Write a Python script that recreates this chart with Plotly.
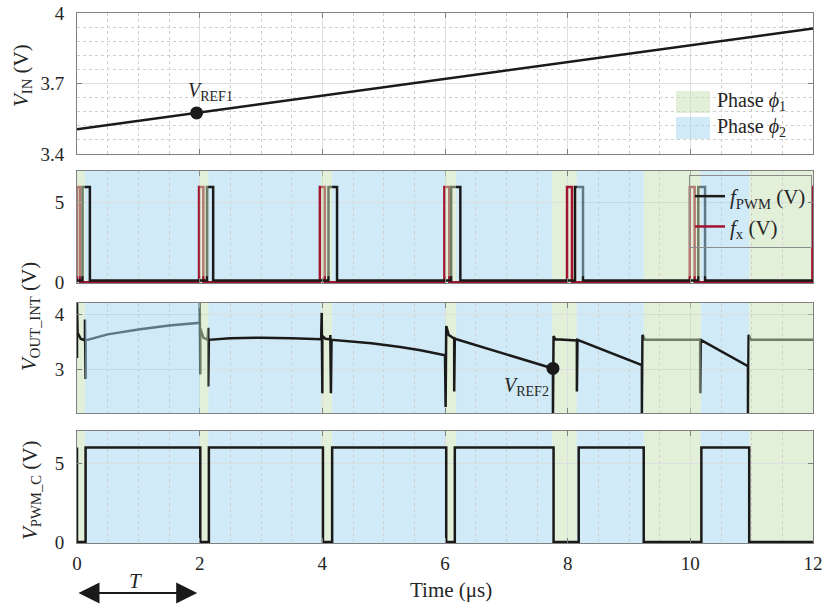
import plotly.graph_objects as go

# ---------------- data ----------------
x_ticks = [0, 2, 4, 6, 8, 10, 12]

# Panel 1 : input voltage
vin_t = [0.0, 1.95, 6.0, 12.0]
vin_v = [3.505, 3.575, 3.718, 3.934]
vref1_t = [1.95]
vref1_v = [3.575]

# Phase intervals (1 = phase phi1, 2 = phase phi2)
phase_start = [0.00, 0.13, 2.00, 2.14, 3.98, 4.16, 6.00, 6.18, 7.75, 8.15, 9.24, 10.17, 10.96]
phase_end   = [0.13, 2.00, 2.14, 3.98, 4.16, 6.00, 6.18, 7.75, 8.15, 9.24, 10.17, 10.96, 12.00]
phase_id    = [1, 2, 1, 2, 1, 2, 1, 2, 1, 2, 1, 2, 1]

# Panel 2 : PWM pulses
fpwm_on  = [0.09, 2.12, 4.10, 6.10, 8.12, 10.13]
fpwm_off = [0.21, 2.22, 4.24, 6.25, 8.25, 10.24]
fpwm_low, fpwm_high = 0.1, 6.0
fx_on  = [0.00, 1.99, 3.96, 5.99, 7.99, 9.99, 11.99]
fx_off = [0.05, 2.06, 4.04, 6.07, 8.07, 10.07, 12.05]
fx_low, fx_high = 0.0, 6.0

# Panel 3 : V_OUT_INT
vout_t = [0.00, 0.00, 0.01, 0.06, 0.13,
          0.13, 0.14, 0.14,
          0.50, 1.00, 1.50, 2.00,
          2.00, 2.01, 2.01, 2.06, 2.13,
          2.14, 2.14, 2.15,
          2.50, 3.00, 3.50, 3.98,
          3.99, 4.00, 4.00, 4.05, 4.13,
          4.13, 4.14, 4.15,
          4.80, 5.27, 5.60, 6.00,
          6.01, 6.02, 6.06, 6.14,
          6.15, 6.15, 6.16,
          7.76,
          7.76, 7.77, 7.80, 8.15,
          8.15, 8.16,
          9.21,
          9.21, 9.22, 9.26, 10.16,
          10.16, 10.17,
          10.94,
          10.94, 10.95, 10.99, 12.00]
vout_v = [3.20, 4.20, 3.66, 3.55, 3.52,
          3.90, 2.82, 3.52,
          3.63, 3.72, 3.79, 3.84,
          4.25, 2.90, 3.74, 3.57, 3.53,
          3.75, 2.68, 3.53,
          3.56, 3.57, 3.56, 3.54,
          4.02, 2.56, 3.60, 3.55, 3.54,
          3.62, 2.56, 3.53,
          3.47, 3.40, 3.34, 3.25,
          2.31, 3.78, 3.62, 3.56,
          3.58, 2.59, 3.55,
          3.01,
          2.20, 3.60, 3.54, 3.52,
          2.59, 3.53,
          3.07,
          2.20, 3.62, 3.53, 3.53,
          2.56, 3.53,
          3.05,
          2.20, 3.62, 3.53, 3.53]
vref2_t = [7.76]
vref2_v = [3.01]

# Panel 4 : V_PWM_C
pwmc_fall = [0.00, 2.01, 4.01, 6.02, 7.77, 9.24, 10.96]
pwmc_rise = [0.14, 2.15, 4.16, 6.16, 8.18, 10.18]
pwmc_low, pwmc_high = 0.0, 6.0

# ---------------- helpers ----------------
def pulses(on, off, low, high, tmax):
    t, v = [0.0], [low]
    for a, b in zip(on, off):
        t += [a, a, b, b]
        v += [low, high, high, low]
    if t[-1] < tmax:
        t.append(tmax)
        v.append(low)
    return t, v


def falling_rising(fall, rise, low, high, tmax):
    t, v = [0.0], [high]
    for i, f in enumerate(fall):
        t += [f, f]
        v += [high, low]
        if i < len(rise):
            t += [rise[i], rise[i]]
            v += [low, high]
    t.append(tmax)
    v.append(low)
    return t, v


BLACK = "#1a1a1a"
RED = "#a2142f"
GREEN_PURE = "rgb(197,224,180)"
BLUE_PURE = "rgb(163,214,239)"
FONT = "Liberation Serif"
AX = "#808080"
TXT = "#262626"

fig = go.Figure()

# Panel 1
fig.add_trace(go.Scatter(x=vin_t, y=vin_v, mode="lines", line=dict(color=BLACK, width=2.5),
                         xaxis="x", yaxis="y", showlegend=False, hoverinfo="skip"))
fig.add_trace(go.Scatter(x=vref1_t, y=vref1_v, mode="markers", marker=dict(color=BLACK, size=13),
                         xaxis="x", yaxis="y", showlegend=False))

# Panel 2
fx_t, fx_v = pulses(fx_on, fx_off, fx_low, fx_high, 12.0)
fp_t, fp_v = pulses(fpwm_on, fpwm_off, fpwm_low, fpwm_high, 12.0)
fig.add_trace(go.Scatter(x=fx_t, y=fx_v, mode="lines", line=dict(color=RED, width=2.5),
                         xaxis="x2", yaxis="y2", name="<i>f</i><sub>x</sub> (V)", legendrank=2))
fig.add_trace(go.Scatter(x=fp_t, y=fp_v, mode="lines", line=dict(color=BLACK, width=2.5),
                         xaxis="x2", yaxis="y2", name="<i>f</i><sub>PWM</sub> (V)", legendrank=1))

# Panel 3
fig.add_trace(go.Scatter(x=vout_t, y=vout_v, mode="lines", line=dict(color=BLACK, width=2.5),
                         xaxis="x3", yaxis="y3", showlegend=False))
fig.add_trace(go.Scatter(x=vref2_t, y=vref2_v, mode="markers", marker=dict(color=BLACK, size=13),
                         xaxis="x3", yaxis="y3", showlegend=False))

# Panel 4
pc_t, pc_v = falling_rising(pwmc_fall, pwmc_rise, pwmc_low, pwmc_high, 12.0)
fig.add_trace(go.Scatter(x=pc_t, y=pc_v, mode="lines", line=dict(color=BLACK, width=2.5),
                         xaxis="x4", yaxis="y4", showlegend=False))

# Phase shading (some drawn over the curves, as in the reference)
above = {2: {0, 2, 4, 6, 9, 10, 11}, 3: {1, 2, 10, 12}, 4: set()}
split_y = {2: 0.06}  # in panel 2 the overlay stops just above the baseline
shapes = []
for p in (2, 3, 4):
    for i, (a, b, pid) in enumerate(zip(phase_start, phase_end, phase_id)):
        col = GREEN_PURE if pid == 1 else BLUE_PURE
        if i in above[p] and p in split_y:
            s = split_y[p]
            shapes.append(dict(type="rect", xref=f"x{p}", yref=f"y{p} domain",
                               x0=a, x1=b, y0=0, y1=s, line=dict(width=0),
                               fillcolor=col, opacity=0.5, layer="below"))
            shapes.append(dict(type="rect", xref=f"x{p}", yref=f"y{p} domain",
                               x0=a, x1=b, y0=s, y1=1, line=dict(width=0),
                               fillcolor=col, opacity=0.5, layer="above"))
        else:
            shapes.append(dict(type="rect", xref=f"x{p}", yref=f"y{p} domain",
                               x0=a, x1=b, y0=0, y1=1, line=dict(width=0),
                               fillcolor=col, opacity=0.5,
                               layer="above" if i in above[p] else "below"))

# Layout geometry (pixels of the 826x607 picture)
W, H, L, R, B, T_ = 826, 607, 77, 13, 64, 13
pw, ph = W - L - R, H - T_ - B
def px(xp):
    return (xp - L) / pw
def py(yp):
    return (H - B - yp) / ph

# Phase legend (panel 1)
shapes.append(dict(type="rect", xref="paper", yref="paper", x0=px(676), x1=px(710),
                   y0=py(113), y1=py(91), line=dict(width=0), fillcolor=GREEN_PURE, opacity=0.5))
shapes.append(dict(type="rect", xref="paper", yref="paper", x0=px(676), x1=px(710),
                   y0=py(139), y1=py(117), line=dict(width=0), fillcolor=BLUE_PURE, opacity=0.5))

tick_font = dict(family=FONT, size=19, color=TXT)
lab_font = dict(family=FONT, size=21, color=TXT)

annotations = [
    dict(xref="paper", yref="paper", x=px(715), y=py(102), xanchor="left", yanchor="middle",
         text="Phase <i>ϕ</i><sub>1</sub>", showarrow=False, font=dict(family=FONT, size=20, color=TXT)),
    dict(xref="paper", yref="paper", x=px(715), y=py(128), xanchor="left", yanchor="middle",
         text="Phase <i>ϕ</i><sub>2</sub>", showarrow=False, font=dict(family=FONT, size=20, color=TXT)),
    dict(xref="x", yref="y", x=1.78, y=3.666, xanchor="left", yanchor="middle",
         text="<i>V</i><sub>REF1</sub>", showarrow=False, font=dict(family=FONT, size=20, color=TXT)),
    dict(xref="x3", yref="y3", x=7.73, y=2.68, xanchor="right", yanchor="middle",
         text="<i>V</i><sub>REF2</sub>", showarrow=False, font=dict(family=FONT, size=20, color=TXT)),
    # y-axis titles
    dict(xref="paper", yref="paper", x=px(22), y=py(76), xanchor="center", yanchor="middle",
         textangle=-90, text="<i>V</i><sub>IN</sub> (V)", showarrow=False, font=lab_font),
    dict(xref="paper", yref="paper", x=px(30), y=py(316), xanchor="center", yanchor="middle",
         textangle=-90, text="<i>V</i><sub>OUT_INT</sub> (V)", showarrow=False, font=lab_font),
    dict(xref="paper", yref="paper", x=px(31), y=py(491), xanchor="center", yanchor="middle",
         textangle=-90, text="<i>V</i><sub>PWM_C</sub> (V)", showarrow=False, font=lab_font),
    # x title
    dict(xref="paper", yref="paper", x=px(451), y=py(590), xanchor="center", yanchor="middle",
         text="Time (μs)", showarrow=False, font=dict(family=FONT, size=21, color=TXT)),
    # period arrow
    dict(xref="x4", yref="paper", x=1.96, y=py(593), axref="x4", ayref="pixel", ax=0.0, ay=0,
         text="", showarrow=True, arrowside="end+start", arrowhead=2, startarrowhead=2,
         arrowsize=2.1, startarrowsize=2.1, arrowwidth=2, arrowcolor=BLACK),
    dict(xref="x4", yref="paper", x=0.95, y=py(581), xanchor="center", yanchor="middle",
         text="<i>T</i>", showarrow=False, font=dict(family=FONT, size=21, color=TXT)),
]

def xaxis(anchor, labels):
    return dict(range=[0, 12], tickvals=x_ticks, showticklabels=labels, anchor=anchor,
                showgrid=True, gridcolor="#dedede", gridwidth=1,
                minor=dict(dtick=0.5, tick0=0, showgrid=True, gridcolor="#cfcfcf",
                           griddash="dot", gridwidth=1),
                ticks="inside", ticklen=5, tickcolor=AX, showline=True, linecolor=AX,
                linewidth=1, mirror="allticks", zeroline=False, tickfont=tick_font,
                ticklabelstandoff=3, automargin=False)

def yaxis(anchor, dom, rng, tv, tt=None, minor=None):
    d = dict(domain=dom, range=rng, tickvals=tv, anchor=anchor,
             showgrid=True, gridcolor="#dedede", gridwidth=1,
             ticks="inside", ticklen=5, tickcolor=AX, showline=True, linecolor=AX,
             linewidth=1, mirror="allticks", zeroline=False, tickfont=tick_font,
             ticklabelstandoff=8, automargin=False)
    if tt:
        d["ticktext"] = tt
    if minor:
        d["minor"] = minor
    return d

fig.update_layout(
    width=W, height=H, margin=dict(l=L, r=R, t=T_, b=B, autoexpand=False),
    paper_bgcolor="white", plot_bgcolor="white",
    font=dict(family=FONT, color=TXT),
    xaxis=xaxis("y", False), xaxis2=xaxis("y2", False),
    xaxis3=xaxis("y3", False), xaxis4=xaxis("y4", True),
    yaxis=yaxis("x", [py(154), py(13)], [3.4, 4.0], [3.4, 3.7, 4.0], ["3.4", "3.7", "4"],
                minor=dict(dtick=0.06, tick0=3.4, showgrid=True, gridcolor="#cfcfcf",
                           griddash="dot", gridwidth=1)),
    yaxis2=yaxis("x2", [py(283), py(171)], [-0.05, 7.0], [0, 5]),
    yaxis3=yaxis("x3", [py(413), py(303)], [2.2, 4.2], [3, 4]),
    yaxis4=yaxis("x4", [0, py(431)], [-0.06, 7.05], [0, 5]),
    shapes=shapes, annotations=annotations,
    showlegend=True,
    legend=dict(x=px(812), y=py(175), xanchor="right", yanchor="top",
                bgcolor="rgba(255,255,255,0)", bordercolor="#8c8c8c", borderwidth=1,
                font=dict(family=FONT, size=21, color=TXT), tracegroupgap=0),
)

fig.write_html("out.html", config={"displayModeBar": False},
               post_script="document.body.style.margin='0px';")
